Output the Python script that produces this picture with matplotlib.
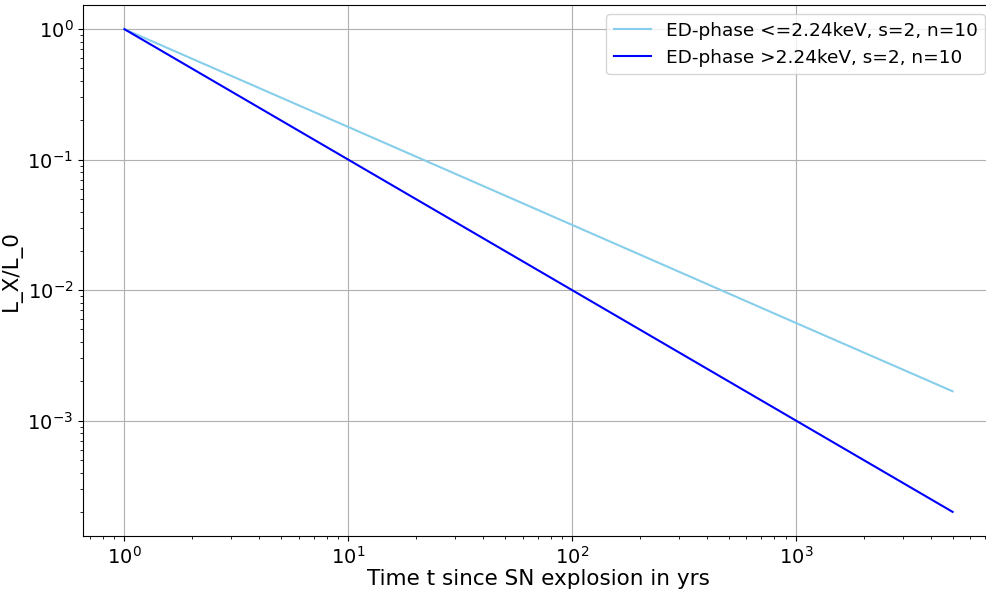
import matplotlib
matplotlib.use('Agg')
import matplotlib.pyplot as plt

# time since SN explosion in yrs, and L_X/L_0
t_yrs = [1, 10, 100, 1000, 5000]
lx_soft = [1.0, 0.178, 0.0316, 0.0056, 0.00168]
lx_hard = [1.0, 0.1, 0.01, 0.001, 0.0002]

labels = ['ED-phase <=2.24keV, s=2, n=10', 'ED-phase >2.24keV, s=2, n=10']

fig = plt.figure(figsize=(9.87, 5.93), dpi=100)
ax = fig.add_axes([0.0841, 0.0961, 0.923, 0.8954])

ax.loglog(t_yrs, lx_soft, color='skyblue', label=labels[0])
ax.loglog(t_yrs, lx_hard, color='blue', label=labels[1])

ax.set_xlabel('Time t since SN explosion in yrs', fontsize=15.5, labelpad=1)
ax.set_ylabel('L_X/L_0', fontsize=15.5)
ax.tick_params(axis='both', which='major', labelsize=14)
ax.grid(True)
ax.legend(fontsize=13.3, loc='upper right')

fig.savefig('out.png', dpi=100)
